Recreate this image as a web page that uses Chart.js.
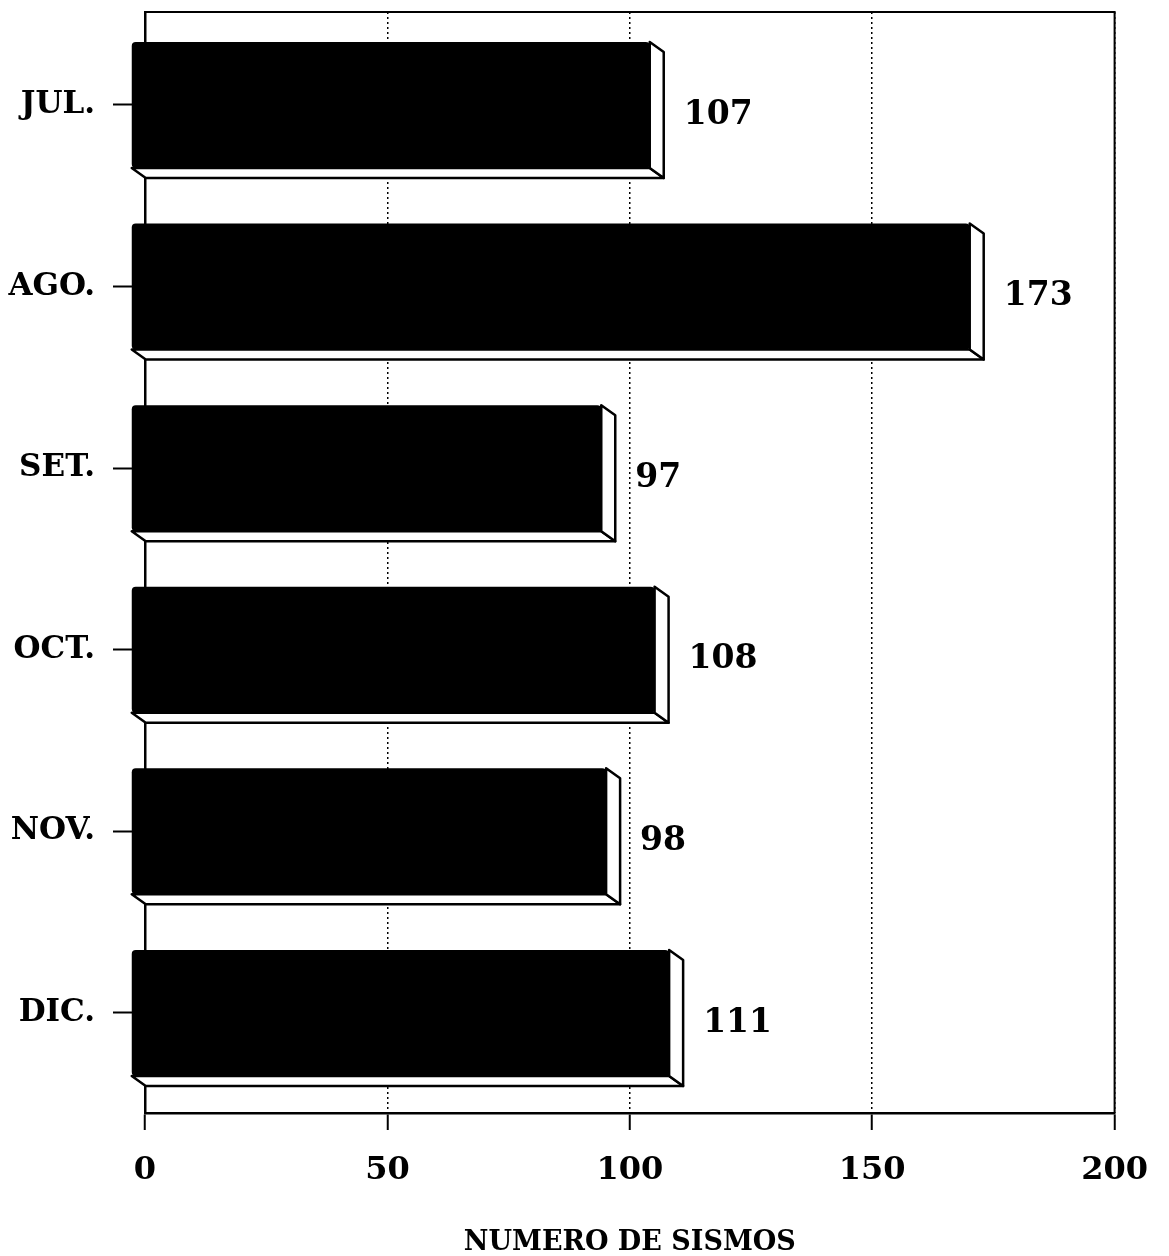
<!DOCTYPE html>
<html>
<head>
<meta charset="utf-8">
<script src="https://cdn.jsdelivr.net/npm/chart.js@4"></script>
<style>
  body { margin: 0; background: #fff; }
  #wrap { width: 1169px; height: 1256px; }
</style>
</head>
<body>
<div id="wrap"><canvas id="sismos" width="1169" height="1256"></canvas></div>
<script>
const months = ['JUL.', 'AGO.', 'SET.', 'OCT.', 'NOV.', 'DIC.'];
const sismos = [107, 173, 97, 108, 98, 111];
const xTicks = [0, 50, 100, 150, 200];
const xTitle = 'NUMERO DE SISMOS';

const serif = '"DejaVu Serif", "Liberation Serif", serif';
const dx = 14, dy = 10;

// frame on top and right side of the plot
const frame = {
    id: 'frame',
    beforeDatasetsDraw(chart) {
        const a = chart.chartArea, ctx = chart.ctx;
        ctx.save();
        ctx.strokeStyle = '#000';
        ctx.lineWidth = 2;
        ctx.beginPath();
        ctx.moveTo(a.left, a.top);
        ctx.lineTo(a.right, a.top);
        ctx.lineTo(a.right, a.bottom);
        ctx.stroke();
        ctx.restore();
    }
};

// fake 3d bars: black front face shifted up-left, white bottom and side faces
const bars3d = {
    id: 'bars3d',
    afterDatasetsDraw(chart) {
        const ctx = chart.ctx;
        const meta = chart.getDatasetMeta(0);
        ctx.save();
        meta.data.forEach((bar, i) => {
            const p = bar.getProps(['x', 'y', 'base', 'height'], true);
            const top = p.y - p.height / 2, bot = p.y + p.height / 2;
            const l = p.base - dx, r = p.x - dx;
            ctx.fillStyle = '#fff';
            ctx.strokeStyle = '#000';
            ctx.lineWidth = 2.5;
            ctx.lineJoin = 'round';
            // bottom face
            ctx.beginPath();
            ctx.moveTo(l, bot);
            ctx.lineTo(r, bot);
            ctx.lineTo(p.x, bot + dy);
            ctx.lineTo(p.base, bot + dy);
            ctx.closePath();
            ctx.fill(); ctx.stroke();
            // right face
            ctx.beginPath();
            ctx.moveTo(r, top);
            ctx.lineTo(p.x, top + dy);
            ctx.lineTo(p.x, bot + dy);
            ctx.lineTo(r, bot);
            ctx.closePath();
            ctx.fill(); ctx.stroke();
            // front
            ctx.fillStyle = '#000';
            ctx.beginPath();
            ctx.roundRect(l, top, r - l, bot - top, 4);
            ctx.fill();
            // value
            ctx.font = 'bold 33px ' + serif;
            ctx.textAlign = 'left';
            ctx.textBaseline = 'middle';
            ctx.fillText(String(sismos[i]), p.x + 20, p.y + dy);
        });
        ctx.restore();
    }
};

new Chart(document.getElementById('sismos'), {
    type: 'bar',
    data: {
        datasets: [{
            data: months.map((m, i) => ({ x: sismos[i], y: i })),
            backgroundColor: 'rgba(0,0,0,0)',
            borderWidth: 0,
            barThickness: 126
        }]
    },
    options: {
        indexAxis: 'y',
        responsive: false,
        animation: false,
        layout: { padding: { top: 12, right: 54, left: 0, bottom: 0 } },
        plugins: { legend: { display: false }, tooltip: { enabled: false } },
        scales: {
            x: {
                type: 'linear',
                min: 0,
                max: 200,
                afterBuildTicks: s => { s.ticks = xTicks.map(v => ({ value: v })); },
                afterFit: s => { s.height = 143; },
                grid: {
                    color: '#000',
                    lineWidth: 1.5,
                    tickLength: 17,
                    tickWidth: 2,
                    tickColor: '#000'
                },
                border: { color: '#000', width: 2.5, dash: [2, 3] },
                ticks: {
                    color: '#000',
                    padding: 21,
                    maxRotation: 0,
                    font: { family: serif, size: 32, weight: 'bold' }
                },
                title: {
                    display: true,
                    text: xTitle,
                    color: '#000',
                    padding: { top: 0, bottom: 0 },
                    font: { family: serif, size: 27, weight: 'bold', lineHeight: 1 }
                }
            },
            y: {
                type: 'linear',
                reverse: true,
                offset: false,
                min: -0.512,
                max: 5.551,
                afterBuildTicks: s => { s.ticks = months.map((m, i) => ({ value: i })); },
                afterFit: s => { s.width = 145; s.paddingTop = 0; s.paddingBottom = 0; },
                grid: {
                    offset: false,
                    drawOnChartArea: false,
                    tickLength: 32,
                    tickWidth: 2,
                    tickColor: '#000'
                },
                border: { color: '#000', width: 2.5 },
                ticks: {
                    color: '#000',
                    padding: 18,
                    font: { family: serif, size: 31, weight: 'bold' },
                    callback: v => months[v]
                }
            }
        }
    },
    plugins: [frame, bars3d]
});
</script>
</body>
</html>
